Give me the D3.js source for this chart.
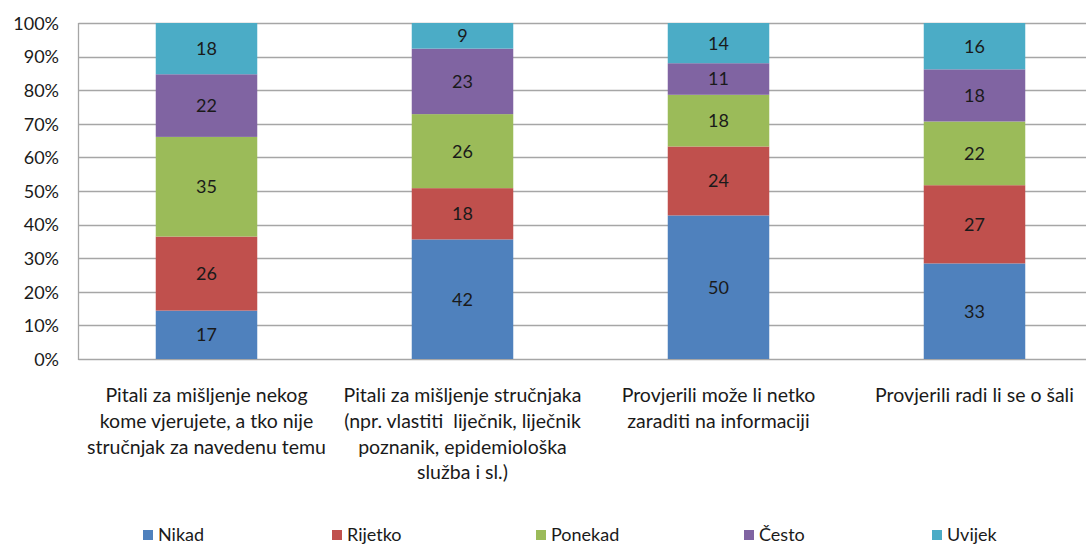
<!DOCTYPE html>
<html>
<head>
<meta charset="utf-8">
<script src="https://cdn.jsdelivr.net/npm/d3@7"></script>
<style>
  html, body { margin: 0; padding: 0; background: #fff; }
  svg { display: block; }
  text { font-family: Lato, "Open Sans", sans-serif; fill: #1a1a1a; }
</style>
</head>
<body>
<svg id="chart" width="1086" height="545"></svg>
<script>
// ---- data ----
const categories = [
  ["Pitali za mišljenje nekog", "kome vjerujete, a tko nije", "stručnjak za navedenu temu"],
  ["Pitali za mišljenje stručnjaka", "(npr. vlastiti  liječnik, liječnik", "poznanik, epidemiološka", "služba i sl.)"],
  ["Provjerili može li netko", "zaraditi na informaciji"],
  ["Provjerili radi li se o šali"]
];
const seriesNames = ["Nikad", "Rijetko", "Ponekad", "Često", "Uvijek"];
const nikad   = [17, 42, 50, 33];
const rijetko = [26, 18, 24, 27];
const ponekad = [35, 26, 18, 22];
const cesto   = [22, 23, 11, 18];
const uvijek  = [18, 9, 14, 16];
const yTicks  = [0, 0.1, 0.2, 0.3, 0.4, 0.5, 0.6, 0.7, 0.8, 0.9, 1];
const colors  = ["#4F81BD", "#C0504D", "#9BBB59", "#8064A2", "#4BACC6"];

// ---- layout ----
const svg = d3.select("#chart");
const plotLeft = 78.5, plotTop = 23, plotBottom = 359;
const step = 256;
const series = [nikad, rijetko, ponekad, cesto, uvijek];

const x = d3.scaleBand()
  .domain(d3.range(categories.length))
  .range([plotLeft, plotLeft + step * categories.length])
  .paddingInner(0.6035)
  .paddingOuter(0.30175);
const y = d3.scaleLinear().domain([0, 1]).range([plotBottom, plotTop]);

// gridlines
svg.append("g").selectAll("line").data(yTicks).join("line")
  .attr("x1", plotLeft).attr("x2", plotLeft + step * categories.length)
  .attr("y1", d => Math.round(y(d)) + 0.5).attr("y2", d => Math.round(y(d)) + 0.5)
  .attr("stroke", "#a6a6a6").attr("stroke-width", 1.3);

// left axis line
svg.append("line")
  .attr("x1", plotLeft).attr("x2", plotLeft)
  .attr("y1", y(1)).attr("y2", y(0) + 1)
  .attr("stroke", "#a6a6a6").attr("stroke-width", 1.3);

// y axis labels
const yAxis = d3.axisLeft(y).tickValues(yTicks).tickFormat(d3.format(".0%")).tickSize(0).tickPadding(0);
const ya = svg.append("g").attr("transform", `translate(${59},0)`).call(yAxis);
ya.select(".domain").remove();
ya.selectAll("text").style("font-family", "Lato, sans-serif").style("font-size", "18px").attr("fill", "#1a1a1a").attr("dy", "0.35em");

// stacked data (normalized)
const rows = categories.map((c, i) => {
  const r = { i };
  seriesNames.forEach((s, k) => r[s] = series[k][i]);
  return r;
});
const stack = d3.stack().keys(seriesNames).offset(d3.stackOffsetExpand);
const stacked = stack(rows);

const g = svg.append("g");
stacked.forEach((layer, k) => {
  g.append("g").attr("fill", colors[k]).selectAll("rect").data(layer).join("rect")
    .attr("x", d => x(d.data.i))
    .attr("width", x.bandwidth())
    .attr("y", d => y(d[1]))
    .attr("height", d => y(d[0]) - y(d[1]));
  g.append("g").selectAll("text").data(layer).join("text")
    .attr("x", d => x(d.data.i) + x.bandwidth() / 2)
    .attr("y", d => (y(d[0]) + y(d[1])) / 2)
    .attr("dy", "0.36em")
    .attr("text-anchor", "middle")
    .style("font-size", "18px")
    .text(d => d.data[layer.key]);
});

// category labels
const cl = svg.append("g");
categories.forEach((lines, i) => {
  const t = cl.append("text")
    .attr("text-anchor", "middle")
    .attr("xml:space", "preserve")
    .style("font-size", "19.5px")
    .style("white-space", "pre");
  lines.forEach((ln, j) => {
    t.append("tspan")
      .attr("x", x(i) + x.bandwidth() / 2)
      .attr("y", 395 + j * 25.8)
      .attr("dy", "0.36em")
      .text(ln);
  });
});

// legend
const legendX = [143, 332, 536, 744, 932];
const lg = svg.append("g");
seriesNames.forEach((s, k) => {
  lg.append("rect").attr("x", legendX[k]).attr("y", 530).attr("width", 10).attr("height", 10).attr("fill", colors[k]);
  lg.append("text").attr("x", legendX[k] + 15).attr("y", 535).attr("dy", "0.36em")
    .style("font-size", "18px").text(s);
});
</script>
</body>
</html>
